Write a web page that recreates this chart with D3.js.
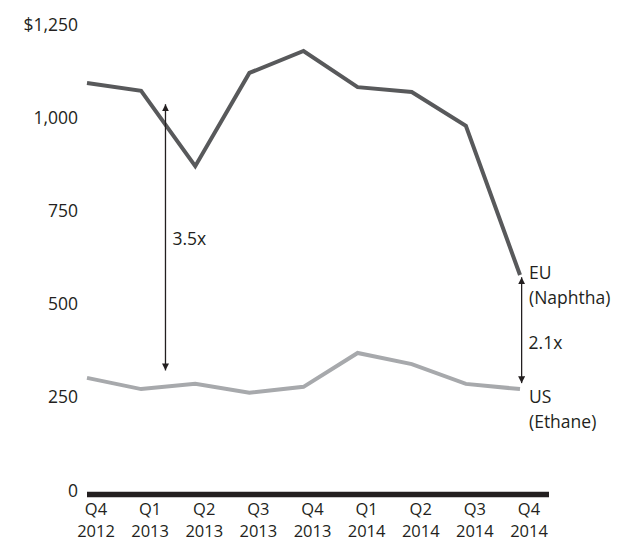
<!DOCTYPE html>
<html>
<head>
<meta charset="utf-8">
<script src="https://cdn.jsdelivr.net/npm/d3@7"></script>
<style>
  body { margin: 0; background: #fff; }
  text { font-family: "Open Sans", Lato, sans-serif; fill: #231f20; }
</style>
</head>
<body>
<svg width="620" height="542"></svg>
<script>
// quarters along the bottom
var quarters = ["Q4", "Q1", "Q2", "Q3", "Q4", "Q1", "Q2", "Q3", "Q4"];
var years = ["2012", "2013", "2013", "2013", "2013", "2014", "2014", "2014", "2014"];
// feedstock cost, $ per tonne
var euNaphtha = [1093, 1072, 870, 1120, 1179, 1082, 1069, 978, 578];
var usEthane = [302, 272, 286, 262, 278, 369, 339, 286, 272];
var yTicks = [0, 250, 500, 750, 1000, 1250];

var fs = "17.5px";
var svg = d3.select("svg");
var keys = quarters.map(function(q, i) { return q + " " + years[i]; });

var x = d3.scalePoint().domain(keys).range([87, 520]);
var y = d3.scaleLinear().domain([0, 1250]).range([490.5, 24.5]);
var step = x.step();

// y axis, labels only
var yAxis = d3.axisLeft(y)
  .tickValues(yTicks)
  .tickSize(0)
  .tickPadding(0)
  .tickFormat(function(d) { return d == 1250 ? "$1,250" : d3.format(",")(d); });
svg.append("g")
  .attr("transform", "translate(78,0)")
  .call(yAxis)
  .call(function(g) { g.select(".domain").remove(); })
  .selectAll("text")
  .style("font-size", fs)
  .style("font-family", "'Open Sans', Lato, sans-serif")
  .attr("fill", "#231f20");

// thick zero line
svg.append("line")
  .attr("x1", x(keys[0]))
  .attr("x2", x(keys[keys.length - 1]) + 29)
  .attr("y1", y(0) + 4)
  .attr("y2", y(0) + 4)
  .attr("stroke", "#231f20")
  .attr("stroke-width", 5.5);

// x labels, two lines each
var xl = svg.append("g").selectAll("text")
  .data(keys)
  .enter()
  .append("text")
  .attr("text-anchor", "middle")
  .style("font-size", "16.5px");
xl.append("tspan")
  .attr("x", function(d) { return x(d) + 9; })
  .attr("y", 514.5)
  .text(function(d, i) { return quarters[i]; });
xl.append("tspan")
  .attr("x", function(d) { return x(d) + 9; })
  .attr("y", 537)
  .text(function(d, i) { return years[i]; });

var line = d3.line()
  .x(function(d, i) { return x(keys[i]); })
  .y(function(d) { return y(d); });

svg.append("path")
  .datum(usEthane)
  .attr("d", line)
  .attr("fill", "none")
  .attr("stroke", "#a7a9ac")
  .attr("stroke-width", 4);

svg.append("path")
  .datum(euNaphtha)
  .attr("d", line)
  .attr("fill", "none")
  .attr("stroke", "#58595b")
  .attr("stroke-width", 4);

// double arrows
var defs = svg.append("defs");
defs.append("marker")
  .attr("id", "tip")
  .attr("viewBox", "0 0 10 10")
  .attr("refX", 10).attr("refY", 5)
  .attr("markerWidth", 7).attr("markerHeight", 7)
  .attr("markerUnits", "userSpaceOnUse")
  .attr("orient", "auto-start-reverse")
  .append("path")
  .attr("d", "M0,0L10,5L0,10Z")
  .attr("fill", "#231f20");

var arrows = [
  { at: 1, shift: 0.45, top: 1036, bottom: 322, label: "3.5x", labelAt: 675 },
  { at: 8, shift: 0.03, top: 572, bottom: 288, label: "2.1x", labelAt: 395 }
];

arrows.forEach(function(a) {
  var ax = x(keys[a.at]) + a.shift * step;
  svg.append("line")
    .attr("x1", ax).attr("x2", ax)
    .attr("y1", y(a.bottom)).attr("y2", y(a.top))
    .attr("stroke", "#231f20")
    .attr("stroke-width", 1.3)
    .attr("marker-start", "url(#tip)")
    .attr("marker-end", "url(#tip)");
  svg.append("text")
    .attr("x", ax + 7)
    .attr("y", y(a.labelAt))
    .attr("dy", "0.35em")
    .style("font-size", fs)
    .text(a.label);
});

// series labels at the right end
var ends = [
  { lines: ["EU", "(Naphtha)"], v: euNaphtha[euNaphtha.length - 1], dy: -2 },
  { lines: ["US", "(Ethane)"], v: usEthane[usEthane.length - 1], dy: 8 }
];
ends.forEach(function(e) {
  var t = svg.append("text").style("font-size", fs);
  e.lines.forEach(function(s, i) {
    t.append("tspan")
      .attr("x", x(keys[keys.length - 1]) + 9)
      .attr("y", y(e.v) + e.dy + 6 + i * 25)
      .text(s);
  });
});
</script>
</body>
</html>
